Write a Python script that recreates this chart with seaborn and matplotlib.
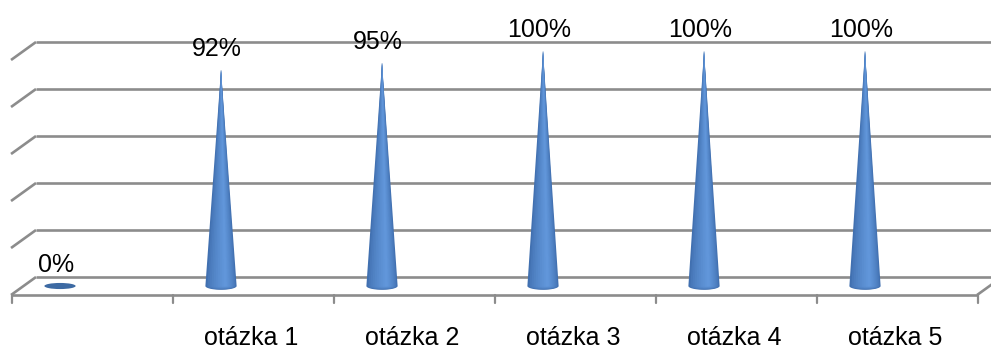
import numpy as np
import pandas as pd
import matplotlib
matplotlib.use("Agg")
import matplotlib.pyplot as plt
import seaborn as sns
from matplotlib.patches import Polygon, Ellipse
from matplotlib.colors import to_rgb

# ---- data ----
categories = ["", "otázka 1", "otázka 2", "otázka 3", "otázka 4", "otázka 5"]
values = [0, 92, 95, 100, 100, 100]
grid_values = [0, 20, 40, 60, 80, 100]
value_labels = [f"{v}%" for v in values]

sns.set_theme(style="white")
plt.rcParams["font.family"] = ["Liberation Sans", "DejaVu Sans"]

fig = plt.figure(figsize=(9.91, 3.5), dpi=100)
ax = fig.add_axes([0, 0, 1, 1])
df = pd.DataFrame({"cat": categories, "val": values})
sns.barplot(data=df, x="cat", y="val", ax=ax, errorbar=None, color="#4a7ebb")
ax.set_xlim(-0.3727, 5.7826)
ax.set_ylim(-27.23, 121.7)
ax.axis("off")

# 3D frame geometry (data units)
DX = 0.0776   # mid-depth -> back offset in x
DY = 3.83     # mid-depth -> back offset in y
left_back = -0.149
left_front = left_back - 2 * DX
right_front = 5.696
right_back = right_front + 2 * DX
gcol = "#8c8c8c"
lw = 1.9

for g in grid_values:
    ax.plot([left_back, right_back], [g + DY, g + DY], color=gcol, lw=lw,
            solid_capstyle="butt", zorder=1, clip_on=False)
    ax.plot([left_front, left_back], [g - DY, g + DY], color=gcol, lw=lw,
            solid_capstyle="butt", zorder=1)
# floor front edge and right edge
ax.plot([left_front, right_front], [-DY, -DY], color=gcol, lw=lw, zorder=1,
        solid_capstyle="butt")
ax.plot([right_front, right_back], [-DY, DY], color=gcol, lw=lw, zorder=1,
        solid_capstyle="butt")
# tick marks
n = len(categories)
for k in range(n + 1):
    tx = left_front + 0.006 + k
    ax.plot([tx, tx], [-DY, -DY - 3.2], color=gcol, lw=1.6, zorder=1)

# ---- cones from seaborn bars ----
dark = np.array(to_rgb("#4170b0"))
light = np.array(to_rgb("#6196da"))
hw = 0.097   # half width of cone base
eh = 1.6     # half-height of base ellipse
patches = list(ax.patches)
for p, lab in zip(patches, value_labels):
    xc = p.get_x() + p.get_width() / 2
    h = p.get_height()
    p.set_visible(False)
    if h > 0:
        layers = 10
        for j in range(layers):
            f = 1 - j / layers
            w = hw * f
            cx = xc + (1 - f) * 0.3 * hw
            t2 = np.linspace(np.pi, 2 * np.pi, 40)
            ax_ = cx + w * np.cos(t2)
            ay_ = eh * f * np.sin(t2)
            px = np.concatenate([[xc], ax_])
            py = np.concatenate([[h], ay_])
            mix = (j / (layers - 1)) ** 0.7
            col = dark * (1 - mix) + light * mix
            ax.add_patch(Polygon(np.column_stack([px, py]), closed=True,
                                 facecolor=col, edgecolor="none", zorder=3 + j * 0.01))
    else:
        ax.add_patch(Ellipse((xc, 0), 2 * hw, 2.6, facecolor="#3d6aa3",
                             edgecolor="none", zorder=3))
    ax.text(xc - 0.025, h + 6.0, lab, ha="center", va="baseline",
            fontsize=18, color="black", zorder=5)

# category labels
for k, c in enumerate(categories):
    if c:
        ax.text(k + 0.19, -25.0, c, ha="center", va="baseline",
                fontsize=18, color="black")

fig.savefig("out.png", dpi=100, facecolor="white")
